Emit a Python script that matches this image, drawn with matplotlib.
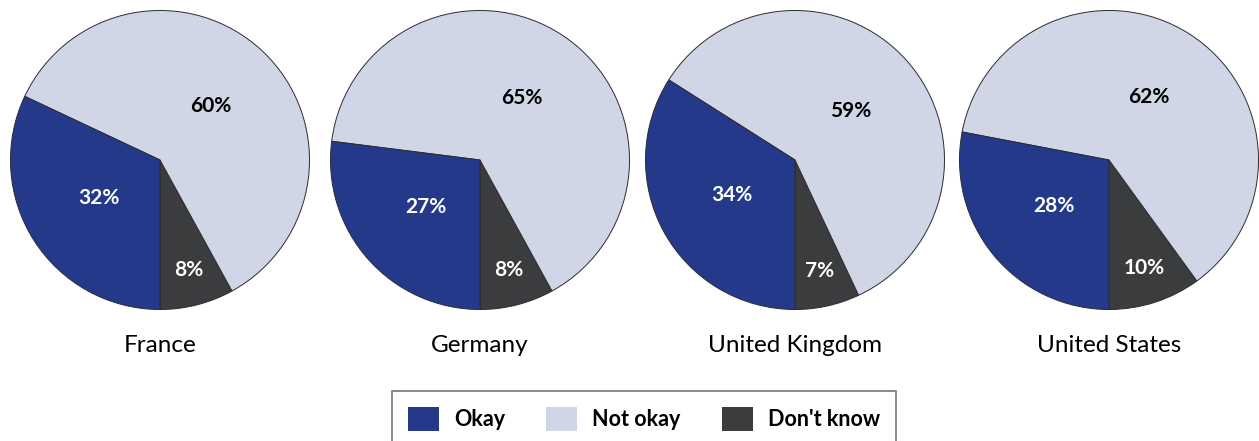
import numpy as np
import matplotlib.pyplot as plt
import matplotlib.patches as mpatches

plt.rcParams['font.family'] = ['Lato', 'DejaVu Sans']

countries = ['France', 'Germany', 'United Kingdom', 'United States']
categories = ['Okay', 'Not okay', "Don't know"]
okay = [32, 27, 34, 28]
not_okay = [60, 65, 59, 62]
dont_know = [8, 8, 7, 10]

colors = {'Okay': '#25398a', 'Not okay': '#d1d6e6', "Don't know": '#3b3c3e'}
label_colors = {'Okay': 'white', 'Not okay': 'black', "Don't know": 'white'}
label_dist = {'Okay': 0.48, 'Not okay': 0.5, "Don't know": 0.76}

W, H = 1259, 441
fig = plt.figure(figsize=(W / 100, H / 100), dpi=100)

centers_x = [160, 480, 795, 1109]
center_y = 160
r = 151

for i, c in enumerate(countries):
    ax = fig.add_axes([(centers_x[i] - r) / W, (H - center_y - r) / H, 2 * r / W, 2 * r / H])
    # drawn counterclockwise from 6 o'clock: don't know, not okay, okay
    order = ["Don't know", 'Not okay', 'Okay']
    vals = {'Okay': okay[i], 'Not okay': not_okay[i], "Don't know": dont_know[i]}
    sizes = [vals[k] for k in order]
    wedges, _ = ax.pie(sizes, colors=[colors[k] for k in order], startangle=-90,
                       counterclock=True, radius=1,
                       wedgeprops=dict(edgecolor='#2b2b33', linewidth=0.7))
    for w, k in zip(wedges, order):
        mid = np.deg2rad((w.theta1 + w.theta2) / 2)
        d = label_dist[k]
        ax.text(d * np.cos(mid), d * np.sin(mid), f'{vals[k]}%', ha='center', va='center',
                fontsize=15, fontweight='bold', color=label_colors[k])
    ax.set_xlim(-1.01, 1.01)
    ax.set_ylim(-1.01, 1.01)
    ax.set_aspect('equal')
    ax.axis('off')
    fig.text(centers_x[i] / W, 1 - 345 / H, c, ha='center', va='center', fontsize=17.5)

leg_handles = [mpatches.Patch(facecolor=colors[k], edgecolor='none') for k in categories]
leg = fig.legend(leg_handles, categories, loc='upper center', bbox_to_anchor=(644 / W, 1 - 391 / H),
                 ncol=3, frameon=True, fancybox=False, edgecolor='#555555',
                 handlelength=1.45, handleheight=1.35, handletextpad=0.7, columnspacing=1.9,
                 borderpad=0.75, borderaxespad=0, prop={'weight': 'bold', 'size': 15.5})
leg.get_frame().set_linewidth(1.2)

fig.savefig('out.png', dpi=100)
